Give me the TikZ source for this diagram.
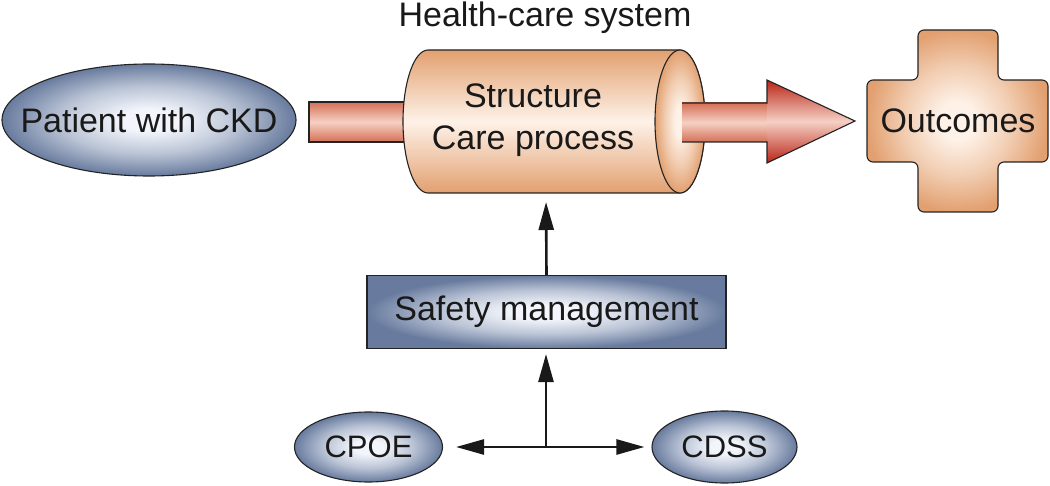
\documentclass[tikz,border=0pt]{standalone}
\usepackage{fontspec}
\setmainfont{Liberation Sans}
\usetikzlibrary{arrows.meta,shapes.geometric,calc}
\definecolor{bin}{RGB}{242,245,251}
\definecolor{bout}{RGB}{104,123,158}
\definecolor{oin}{RGB}{254,242,232}
\definecolor{oout}{RGB}{226,160,112}
\definecolor{barout}{RGB}{212,112,86}
\definecolor{barin}{RGB}{246,208,196}
\definecolor{headout}{RGB}{185,36,24}
\definecolor{linec}{RGB}{35,35,35}
\colorlet{bmid}{bin!60!bout}
\colorlet{omid}{oin!55!oout}
\pgfdeclareradialshading{blueglow}{\pgfpoint{0bp}{0bp}}{color(0bp)=(bin); color(5bp)=(bin); color(15bp)=(bmid); color(25bp)=(bout); color(50bp)=(bout)}
\pgfdeclareradialshading{orangeglow}{\pgfpoint{0bp}{0bp}}{color(0bp)=(oin); color(5bp)=(oin); color(15bp)=(omid); color(25bp)=(oout); color(50bp)=(oout)}
\begin{document}
\begin{tikzpicture}[x=1pt,y=1pt,
  txt/.style={font=\fontsize{34}{42}\selectfont, text=black!90, inner sep=0pt},
  smalltxt/.style={font=\fontsize{31}{36}\selectfont, text=black!90, inner sep=0pt},
  blueell/.style={ellipse, draw=linec, line width=1.1pt, shade, shading=blueglow, inner sep=0pt},
  bluebox/.style={rectangle, draw=linec, line width=1.1pt, shade, shading=blueglow, inner sep=0pt},
  outl/.style={draw=linec, line width=1.1pt},
  barshade/.style={top color=barout, bottom color=barout, middle color=barin},
  conn/.style={line width=2.6pt, draw=black!90, -{Triangle[length=28pt,width=15pt]}}]
\useasboundingbox (0,0) rectangle (1050,-486);

% title
\node[txt, anchor=base] (title) at (545,-26.5) {Health-care system};

% patient
\node[blueell, minimum width=294, minimum height=112,
      label={[txt]center:Patient with CKD}] (patient) at (149,-120) {};

% left bar into cylinder
\path[outl, barshade] (309,-102) rectangle (425,-142);

% cylinder
\path[outl, top color=oout, bottom color=oout, middle color=oin]
  (428,-50) -- (680,-50) arc[start angle=90, end angle=-90, x radius=25, y radius=71.5]
  -- (428,-193) arc[start angle=270, end angle=90, x radius=25, y radius=71.5] -- cycle;
\path[outl, shade, shading=orangeglow] (680,-121.5) ellipse [x radius=25, y radius=71.5];
\node[txt, align=center] (sys) at (533,-120) {Structure\\Care process};
\coordinate (cylbot) at (546,-193);

% big arrow
\path[barshade] (682,-103) rectangle (768,-142);
\path[top color=headout, bottom color=headout, middle color=barin]
  (767,-80) -- (855,-121) -- (767,-163) -- cycle;
\draw[outl] (682,-103) -- (767,-103) -- (767,-80) -- (855,-121) -- (767,-163) -- (767,-142) -- (682,-142);

% outcomes cross
\path[outl, shade, shading=orangeglow, rounded corners=6pt]
  (918,-30) -- (998,-30) -- (998,-80) -- (1048,-80) -- (1048,-162) -- (998,-162)
  -- (998,-212) -- (918,-212) -- (918,-162) -- (867,-162) -- (867,-80) -- (918,-80) -- cycle;
\node[txt] (out) at (958,-121) {Outcomes};

% safety management
\node[bluebox, minimum width=359, minimum height=73, txt] (safety) at (546.5,-312) {Safety management};

% CPOE / CDSS
\node[blueell, minimum width=148, minimum height=70,
      label={[smalltxt]center:CPOE}] (cpoe) at (368.5,-447) {};
\node[blueell, minimum width=145, minimum height=72,
      label={[smalltxt]center:CDSS}] (cdss) at (724.5,-447) {};

\coordinate (j) at (546,-447);

% connectors
\draw[conn, shorten >=9pt] (safety.north) -- (cylbot);
\draw[conn, shorten >=5pt] (j) -- (j |- safety.south);
\draw[conn, shorten >=13pt] (j) -- (cpoe.east);
\draw[conn, shorten >=7pt] (j) -- (cdss.west);
\end{tikzpicture}
\end{document}
